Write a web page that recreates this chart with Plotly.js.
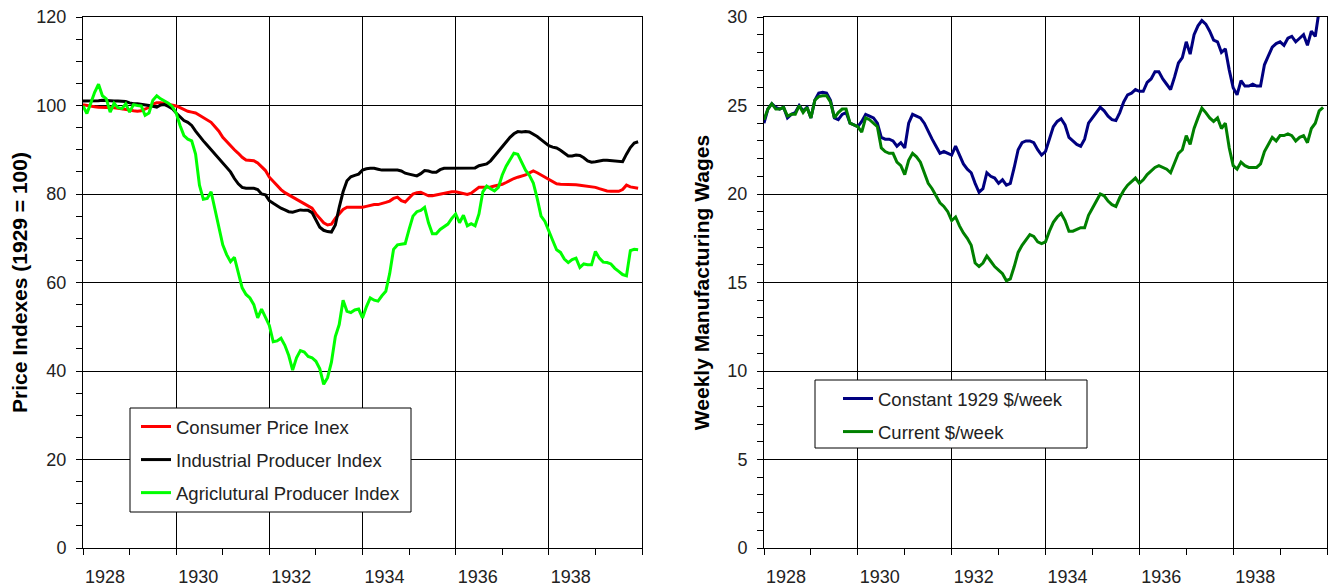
<!DOCTYPE html>
<html>
<head>
<meta charset="utf-8">
<script src="https://cdn.plot.ly/plotly-3.0.1.min.js"></script>
<style>
  html, body { margin: 0; padding: 0; background: #ffffff; }
  #chart { width: 1328px; height: 586px; }
</style>
</head>
<body>
<div id="chart"></div>
<script>
// Monthly observations, January 1928 through December 1939
const startYear = 1928;
const monthCount = 144;

const consumerPriceIndex = [
  100.2, 100.0, 99.8, 99.7, 99.6, 99.6, 99.5, 99.6, 99.5, 99.4, 99.3, 99.2,
  99.0, 98.8, 98.7, 98.8, 99.2, 99.6, 100.3, 100.6, 100.6, 100.4, 100.2, 100.0,
  99.9, 99.5, 99.1, 98.7, 98.5, 98.3, 97.8, 97.2, 96.6, 96.2, 95.2, 94.2,
  92.8, 91.8, 90.9, 90.0, 89.2, 88.3, 87.7, 87.6, 87.5, 87.0, 86.2, 85.3,
  83.8, 82.8, 81.8, 81.0, 80.3, 79.8, 79.3, 78.8, 78.3, 77.8, 77.3, 76.8,
  75.5, 74.5, 73.5, 73.0, 73.2, 74.5, 75.5, 76.5, 77.0, 77.0, 77.0, 76.9,
  77.0, 77.2, 77.4, 77.6, 77.6, 77.8, 78.1, 78.4, 79.0, 79.3, 78.5, 78.2,
  79.2, 80.0, 80.3, 80.4, 80.0, 79.6, 79.6, 79.8, 80.0, 80.2, 80.4, 80.5,
  80.5, 80.3, 80.0, 79.9, 80.2, 80.8, 81.5, 81.5, 81.5, 81.6, 81.8, 82.0,
  82.2, 82.6, 83.1, 83.5, 83.8, 84.1, 84.3, 84.8, 85.2, 84.8, 84.3, 83.9,
  83.4, 82.8, 82.3, 82.2, 82.2, 82.2, 82.2, 82.1, 82.0, 81.9, 81.8, 81.7,
  81.5, 81.2, 80.9, 80.7, 80.6, 80.6, 80.6, 81.0, 82.0, 81.6, 81.5, 81.3
];

const industrialProducerIndex = [
  101.0, 101.0, 101.1, 101.1, 101.1, 101.2, 101.1, 101.0, 101.0, 101.0, 101.0, 100.9,
  100.6, 100.4, 100.4, 100.3, 100.2, 100.0, 99.8, 99.6, 100.1, 100.2, 99.8, 99.3,
  98.3, 97.5, 96.6, 96.2, 95.5, 94.2, 93.0, 92.0, 91.0, 90.0, 88.8, 87.8,
  86.9, 86.0, 85.0, 83.5, 82.3, 81.5, 81.3, 81.3, 81.3, 81.0, 80.0, 79.8,
  78.5, 77.9, 77.3, 76.8, 76.4, 76.0, 75.9, 76.2, 76.4, 76.3, 76.3, 75.8,
  74.0, 72.5, 71.8, 71.5, 71.4, 73.0, 77.0, 80.5, 83.0, 83.9, 84.2, 84.5,
  85.4, 85.7, 85.8, 85.8, 85.6, 85.4, 85.4, 85.4, 85.4, 85.4, 85.2, 84.7,
  84.5, 84.3, 84.1, 84.6, 85.3, 85.2, 84.9, 84.9, 85.5, 85.8, 85.8, 85.8,
  85.8, 85.8, 85.8, 85.8, 85.8, 85.9, 86.4, 86.6, 86.8, 87.5, 88.6, 89.7,
  90.7, 91.8, 92.8, 93.6, 94.1, 94.0, 94.1, 94.0, 93.5, 93.0, 92.3, 91.5,
  90.9, 90.6, 90.4, 89.9, 89.2, 88.6, 88.6, 88.8, 88.7, 88.2, 87.5, 87.2,
  87.3, 87.5, 87.6, 87.6, 87.5, 87.4, 87.3, 87.3, 89.0, 90.5, 91.5, 91.8
];

const agriculturalProducerIndex = [
  99.9, 98.2, 100.5, 103.0, 104.8, 102.2, 101.5, 98.5, 100.5, 99.5, 99.3, 100.4,
  98.5, 100.2, 100.0, 99.9, 97.8, 98.3, 101.2, 102.2, 101.5, 101.0, 100.5, 99.8,
  98.3, 95.5, 93.2, 92.4, 92.0, 89.0, 82.0, 78.8, 79.0, 80.5, 76.5, 72.0,
  68.5, 66.3, 64.7, 65.7, 62.5, 58.8, 57.3, 56.5, 55.0, 52.0, 54.0, 52.0,
  50.3, 46.6, 46.8, 47.4, 45.8, 43.5, 40.2, 43.0, 44.6, 44.3, 43.3, 43.0,
  42.2, 40.5, 37.0, 38.5, 42.0, 47.8, 50.5, 56.0, 53.5, 53.2, 53.8, 54.0,
  52.0, 54.5, 56.5, 56.0, 55.8, 57.0, 58.0, 62.0, 67.5, 68.5, 68.6, 68.8,
  72.0, 75.0, 76.0, 76.3, 77.0, 73.5, 71.0, 71.0, 72.0, 72.6, 73.2, 74.5,
  75.5, 73.5, 75.2, 72.8, 73.3, 72.8, 75.5, 80.5, 81.8, 81.2, 80.7, 81.5,
  84.3, 86.3, 87.8, 89.2, 89.0, 87.0, 85.4, 84.2, 82.5, 79.0, 75.0, 73.8,
  71.5, 69.5, 67.4, 66.8, 65.3, 64.5, 65.2, 65.5, 63.4, 64.2, 64.0, 64.0,
  67.0, 65.5, 64.6, 64.5, 64.2, 63.2, 62.5, 61.8, 61.5, 67.2, 67.5, 67.4
];

const wagesConstant1929 = [
  24.0, 24.8, 25.1, 24.9, 24.8, 24.9, 24.3, 24.5, 24.6, 25.0, 24.7, 24.9,
  24.3, 25.3, 25.7, 25.75, 25.7, 25.3, 24.3, 24.2, 24.5, 24.6, 24.0, 23.9,
  23.8, 24.1, 24.5, 24.4, 24.3, 24.0, 23.2, 23.1, 23.1, 23.0, 22.7, 22.9,
  22.6, 24.0, 24.5, 24.4, 24.3, 24.0, 23.5, 23.1, 22.7, 22.3, 22.4, 22.3,
  22.2, 22.7, 22.2, 21.7, 21.4, 21.2, 20.6, 20.1, 20.3, 21.2, 21.0, 20.9,
  20.6, 20.8, 20.5, 20.6, 21.5, 22.5, 22.9, 23.0, 23.0, 22.9, 22.5, 22.2,
  22.4, 23.1, 23.8, 24.1, 24.25, 23.9, 23.2, 23.0, 22.8, 22.7, 23.1, 24.0,
  24.3, 24.6, 24.9, 24.7, 24.4, 24.2, 24.15, 24.6, 25.2, 25.6, 25.7, 25.9,
  25.8, 25.8, 26.3, 26.5, 26.9, 26.9, 26.5, 26.2, 25.9, 26.6, 27.4, 27.7,
  28.6, 27.9, 29.0, 29.5, 29.8, 29.6, 29.2, 28.7, 28.6, 28.0, 28.2, 27.0,
  26.0, 25.6, 26.4, 26.1, 26.1, 26.2, 26.1, 26.1, 27.3, 27.8, 28.3, 28.5,
  28.6, 28.4, 28.8, 28.9, 28.6, 28.8, 29.0, 28.4, 29.2, 28.9, 30.4, 31.0
];

const wagesCurrent = [
  24.2, 24.8, 25.1, 24.8, 24.8, 24.9, 24.4, 24.5, 24.5, 25.0, 24.6, 24.9,
  24.3, 25.3, 25.5, 25.55, 25.55, 25.2, 24.3, 24.6, 24.8, 24.8, 24.0, 23.9,
  23.8, 23.5, 24.3, 24.2, 24.0, 23.8, 22.6, 22.4, 22.3, 22.3, 21.8, 21.6,
  21.1, 21.9, 22.3, 22.1, 21.8, 21.2, 20.6, 20.3, 19.9, 19.5, 19.3, 19.0,
  18.5, 18.7, 18.2, 17.8, 17.5, 17.1, 16.1, 15.9, 16.1, 16.5, 16.2, 15.9,
  15.7, 15.5, 15.1, 15.2, 15.9, 16.7, 17.1, 17.4, 17.7, 17.6, 17.3, 17.2,
  17.3, 17.9, 18.4, 18.7, 18.9, 18.5, 17.9, 17.9, 18.0, 18.1, 18.1, 18.8,
  19.2, 19.6, 20.0, 19.9, 19.6, 19.4, 19.3, 19.8, 20.2, 20.5, 20.7, 20.9,
  20.6, 20.8, 21.1, 21.3, 21.5, 21.6, 21.5, 21.4, 21.2, 21.7, 22.3, 22.5,
  23.3, 22.8, 23.7, 24.3, 24.85, 24.6, 24.3, 24.1, 24.3, 23.7, 24.0, 22.6,
  21.6, 21.4, 21.8, 21.6, 21.5, 21.5, 21.5, 21.7, 22.4, 22.8, 23.2, 23.0,
  23.3, 23.3, 23.4, 23.3, 23.0, 23.2, 23.3, 22.9, 23.7, 24.0, 24.7, 24.9
];

const yearTicks = [1928, 1930, 1932, 1934, 1936, 1938];
const yearTickLabels = ['1928', '1930', '1932', '1934', '1936', '1938'];

// time in fractional years for each monthly observation
const months = [];
for (let i = 0; i < monthCount; i++) months.push(startYear + i / 12);

const FONT = 'Liberation Sans, Arial, sans-serif';

const traces = [
  {x: months, y: consumerPriceIndex, name: 'Consumer Price Inex', type: 'scatter', mode: 'lines',
   line: {color: '#ff0000', width: 3}, xaxis: 'x', yaxis: 'y', legend: 'legend', legendgroup: 'a'},
  {x: months, y: industrialProducerIndex, name: 'Industrial Producer Index', type: 'scatter', mode: 'lines',
   line: {color: '#000000', width: 3}, xaxis: 'x', yaxis: 'y', legend: 'legend', legendgroup: 'b'},
  {x: months, y: agriculturalProducerIndex, name: 'Agriclutural Producer Index', type: 'scatter', mode: 'lines',
   line: {color: '#00ff00', width: 3}, xaxis: 'x', yaxis: 'y', legend: 'legend', legendgroup: 'c'},
  {x: months, y: wagesConstant1929, name: 'Constant 1929 $/week', type: 'scatter', mode: 'lines',
   line: {color: '#000080', width: 3}, xaxis: 'x2', yaxis: 'y2', legend: 'legend2', legendgroup: 'd'},
  {x: months, y: wagesCurrent, name: 'Current $/week', type: 'scatter', mode: 'lines',
   line: {color: '#008000', width: 3}, xaxis: 'x2', yaxis: 'y2', legend: 'legend2', legendgroup: 'e'}
];

const W = 1328;
function xAxis(domain) {
  return {
    domain: domain, range: [1928, 1940], tickmode: 'array', tickvals: yearTicks, ticktext: yearTickLabels,
    ticks: 'outside', ticklen: 6, tickcolor: '#000', tickwidth: 1,
    minor: {dtick: 1, tick0: 1928, ticks: 'outside', ticklen: 6, tickcolor: '#000', showgrid: false},
    showgrid: true, gridcolor: '#000', gridwidth: 1,
    showline: true, linecolor: '#000', linewidth: 1, mirror: true, zeroline: false,
    tickfont: {family: FONT, size: 18, color: '#222'},
    ticklabelshift: 22, ticklabelstandoff: 6, fixedrange: true
  };
}
function yAxis(range, dtick, minorDtick, titleText, standoff, anchor) {
  return {
    domain: [0, 1], range: range, dtick: dtick, tick0: 0, anchor: anchor,
    ticks: 'outside', ticklen: 6, tickcolor: '#000', tickwidth: 1,
    minor: {dtick: minorDtick, tick0: 0, ticks: 'outside', ticklen: 6, tickcolor: '#000', showgrid: false},
    showgrid: true, gridcolor: '#000', gridwidth: 1,
    showline: true, linecolor: '#000', linewidth: 1, mirror: true, zeroline: false,
    tickfont: {family: FONT, size: 18, color: '#222'},
    ticklabelstandoff: 6,
    title: {text: titleText, font: {family: FONT, size: 21, color: '#000', weight: 'bold'}, standoff: standoff},
    fixedrange: true
  };
}

const legendFont = {family: FONT, size: 18.5, color: '#222'};

const layout = {
  width: W, height: 586,
  margin: {l: 0, r: 0, t: 17, b: 38},
  paper_bgcolor: '#ffffff', plot_bgcolor: '#ffffff',
  showlegend: true,
  xaxis: Object.assign(xAxis([83 / W, 642 / W]), {anchor: 'y'}),
  yaxis: yAxis([0, 120], 20, 5, 'Price Indexes (1929 = 100)', 3, 'x'),
  xaxis2: Object.assign(xAxis([764 / W, 1327 / W]), {anchor: 'y2'}),
  yaxis2: yAxis([0, 30], 5, 1, 'Weekly Manufacturing Wages', 12, 'x2'),
  legend: {x: 136 / W, y: 1 - (408 - 17) / 531, xanchor: 'left', yanchor: 'top', xref: 'paper', yref: 'paper',
    bgcolor: 'rgba(0,0,0,0)', borderwidth: 0, font: legendFont, traceorder: 'grouped', tracegroupgap: 6},
  legend2: {x: 838 / W, y: 1 - (380 - 17) / 531, xanchor: 'left', yanchor: 'top', xref: 'paper', yref: 'paper',
    bgcolor: 'rgba(0,0,0,0)', borderwidth: 0, font: legendFont, traceorder: 'grouped', tracegroupgap: 6},
  shapes: [
    {type: 'rect', xref: 'paper', yref: 'paper', x0: 130 / W, x1: 411 / W, y0: 1 - (512 - 17) / 531, y1: 1 - (408 - 17) / 531,
     line: {color: '#000', width: 1}, fillcolor: '#ffffff', layer: 'above'},
    {type: 'rect', xref: 'paper', yref: 'paper', x0: 815 / W, x1: 1087 / W, y0: 1 - (448 - 17) / 531, y1: 1 - (380 - 17) / 531,
     line: {color: '#000', width: 1}, fillcolor: '#ffffff', layer: 'above'}
  ]
};

Plotly.newPlot('chart', traces, layout, {displayModeBar: false, staticPlot: true});
</script>
</body>
</html>
